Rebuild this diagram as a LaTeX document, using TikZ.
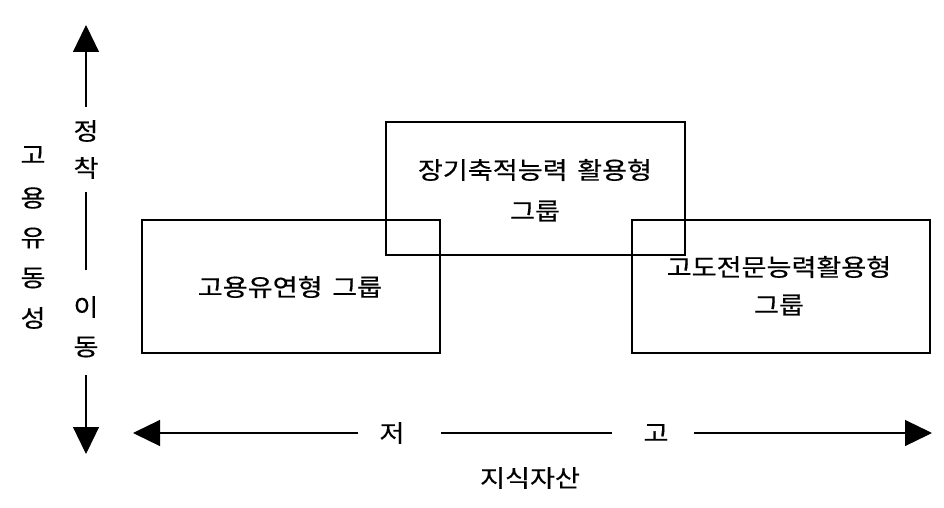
\documentclass[tikz,border=0pt]{standalone}
\usepackage{fontspec}
\setmainfont{Noto Sans CJK KR}[FakeStretch=1.13,FakeBold=0.4]
\usetikzlibrary{arrows.meta}
\begin{document}
\begin{tikzpicture}[x=1pt,y=-1pt,
  box/.style={draw,line width=2.2pt,inner sep=0pt},
  lbl/.style={font=\fontsize{24}{30}\selectfont,inner sep=0pt,align=center},
  axis/.style={line width=1.2pt},
  tip/.style={-{Triangle[width=26pt,length=27pt]}}]
\useasboundingbox (0,0) rectangle (944,508);
% boxes
\draw[box] (142,220) rectangle (440,353);
\draw[box] (386,122) rectangle (685,255);
\draw[box] (632,220) rectangle (930,353);
\node[lbl] (b1) at (290,287) {고용유연형\hspace{0.4em}그룹};
\node[lbl] (b2a) at (535,170) {장기축적능력\hspace{0.4em}활용형};
\node[lbl] (b2b) at (535,211) {그룹};
\node[lbl] (b3a) at (779,267) {고도전문능력활용형};
\node[lbl] (b3b) at (779,305) {그룹};
% vertical axis
\node[lbl] (jeong) at (86,131) {정};
\node[lbl] (chak) at (86,168) {착};
\node[lbl] (i) at (86,307) {이};
\node[lbl] (dong) at (86,347) {동};
\coordinate (vt) at (86,25);
\coordinate (vt1) at (86,107);
\coordinate (vm1) at (86,192);
\coordinate (vm2) at (86,270);
\coordinate (vb1) at (86,375);
\coordinate (vb) at (86,454);
\draw[axis,tip] (vt1) -- (vt);
\draw[axis] (vm1) -- (vm2);
\draw[axis,tip] (vb1) -- (vb);
% left label
\node[lbl] (l1) at (33,155) {고};
\node[lbl] (l2) at (33,198) {용};
\node[lbl] (l3) at (33,238) {유};
\node[lbl] (l4) at (33,278) {동};
\node[lbl] (l5) at (33,318) {성};
% horizontal axis
\node[lbl] (jeo) at (392,433) {저};
\node[lbl] (go) at (656,433) {고};
\coordinate (hl) at (133,433);
\coordinate (hl1) at (358,433);
\coordinate (hm1) at (441,433);
\coordinate (hm2) at (612,433);
\coordinate (hr1) at (694,433);
\coordinate (hr) at (932,433);
\draw[axis,tip] (hl1) -- (hl);
\draw[axis] (hm1) -- (hm2);
\draw[axis,tip] (hr1) -- (hr);
\node[lbl] (ka) at (530,478) {지식자산};
\end{tikzpicture}
\end{document}
